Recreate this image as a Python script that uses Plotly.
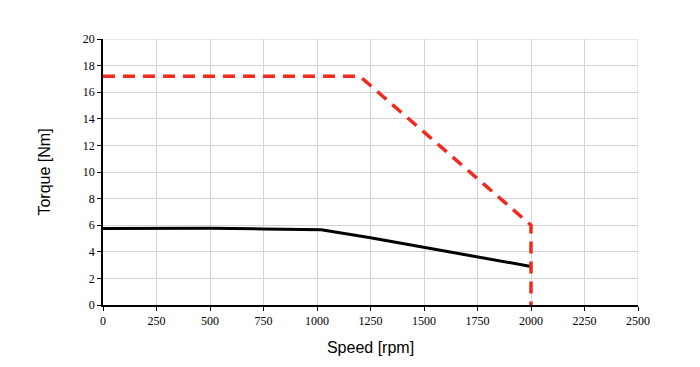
import plotly.graph_objects as go

speed_cont = [0, 250, 500, 750, 1020, 1250, 1500, 1750, 2000]
torque_cont = [5.75, 5.78, 5.78, 5.72, 5.65, 5.05, 4.33, 3.62, 2.9]

speed_peak = [0, 1200, 2000, 2000]
torque_peak = [17.2, 17.2, 6.0, 0]

x_ticks = [0, 250, 500, 750, 1000, 1250, 1500, 1750, 2000, 2250, 2500]
y_ticks = [0, 2, 4, 6, 8, 10, 12, 14, 16, 18, 20]

fig = go.Figure()
fig.add_trace(go.Scatter(x=speed_cont, y=torque_cont, mode="lines",
                         line=dict(color="black", width=3), showlegend=False))
fig.add_trace(go.Scatter(x=speed_peak, y=torque_peak, mode="lines",
                         line=dict(color="#f22a1e", width=3.5, dash="12px,8px"), showlegend=False))

fig.update_layout(
    width=700, height=367,
    font=dict(family="Liberation Serif", size=12, color="black"),
    margin=dict(l=95, r=70, t=31, b=70),
    paper_bgcolor="white", plot_bgcolor="white",
)
fig.update_xaxes(range=[0, 2500], tickvals=x_ticks, ticks="outside", ticklen=4,
                 tickcolor="black", showline=True, linecolor="black", linewidth=1.5,
                 showgrid=True, gridcolor="#d3d3d3", gridwidth=1, zeroline=False,
                 tickfont=dict(family="Liberation Serif", size=12, color="black"),
                 title_text="Speed [rpm]", title_standoff=15,
                 title_font=dict(family="Liberation Sans", size=16, color="black"))
fig.update_yaxes(range=[0, 20], tickvals=y_ticks, ticks="outside", ticklen=4,
                 tickcolor="black", showline=True, linecolor="black", linewidth=1.5,
                 showgrid=True, gridcolor="#d3d3d3", gridwidth=1, zeroline=False,
                 tickfont=dict(family="Liberation Serif", size=12, color="black"),
                 title_text="Torque [Nm]", title_standoff=28,
                 title_font=dict(family="Liberation Sans", size=16, color="black"))
fig.add_shape(type="line", xref="x", yref="paper", x0=2500, x1=2500, y0=0, y1=1,
              line=dict(color="#d3d3d3", width=1), layer="below")
fig.add_shape(type="line", xref="paper", yref="y", x0=0, x1=1, y0=20, y1=20,
              line=dict(color="#d3d3d3", width=1), layer="below")
fig.write_html("out.html")
